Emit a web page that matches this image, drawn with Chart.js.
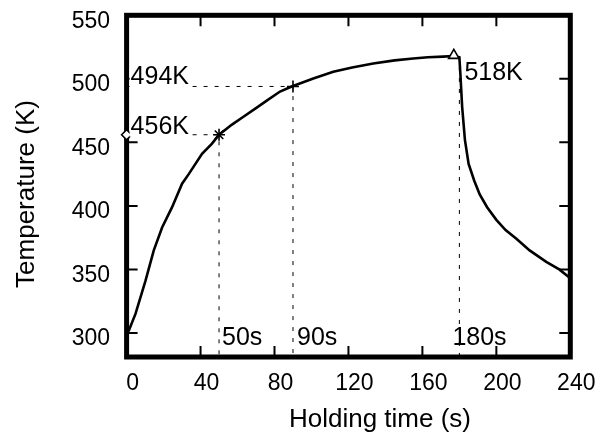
<!DOCTYPE html>
<html><head><meta charset="utf-8">
<script src="https://cdn.jsdelivr.net/npm/chart.js@4/dist/chart.umd.min.js"></script>
<style>html,body{margin:0;padding:0;background:#fff}#wrap{width:598px;height:432px;position:relative}</style>
</head><body><div id="wrap"><canvas id="c"></canvas></div>
<script>
// ---- data ----
const timeS = [0, 1.2, 4.8, 10.2, 14.7, 19.2, 24.6, 30, 33.6, 40.8, 46.2, 50, 57, 63, 70, 76, 83, 89.3, 101, 111.8, 122, 133.4, 145, 155, 163, 171.2, 177, 180, 180.5, 181.5, 183, 185, 188, 191, 195, 200, 205, 211, 218, 227, 234, 240];
const tempK = [300, 302, 315, 341, 365, 383, 399, 417.5, 425, 441, 449, 456, 464, 470, 477, 483, 490, 494, 500.3, 505.5, 509, 512, 514.5, 516, 517, 517.5, 518, 517, 505, 478, 452, 433, 420, 409, 399, 389, 381, 374, 365, 356, 350, 343];
const xTicks = [0, 40, 80, 120, 160, 200, 240];
const yTicks = [300, 350, 400, 450, 500, 550];
const markerTimes = [0, 50, 90, 177];
const markerTemps = [456, 456, 494, 518.5];
const markerStyles = ['rectRot', 'star', 'cross', 'triangle'];
const guideTimes = [50, 90, 180];
const guideTemps = [456, 494, 518];
const tempLabels = ['456K', '494K', '518K'];
const timeLabels = ['50s', '90s', '180s'];
const X_MIN = 0, X_MAX = 240, Y_MIN = 281.1, Y_MAX = 550;
const xTitle = 'Holding time (s)';
const yTitle = 'Temperature (K)';

const FONT = '"Liberation Sans", Arial, sans-serif';

const curve = timeS.map((t, i) => ({x: t, y: tempK[i]}));
const markers = markerTimes.map((t, i) => ({x: t, y: markerTemps[i]}));
const guides = [
  [{x: X_MIN, y: guideTemps[0]}, {x: guideTimes[0], y: guideTemps[0]}, {x: guideTimes[0], y: Y_MIN}],
  [{x: X_MIN, y: guideTemps[1]}, {x: guideTimes[1], y: guideTemps[1]}, {x: guideTimes[1], y: Y_MIN}],
  [{x: guideTimes[2], y: guideTemps[2]}, {x: guideTimes[2], y: Y_MIN}]
];

const guideSets = guides.map(g => ({
  type: 'line', data: g, borderColor: '#000', borderWidth: 1, borderDash: [4, 7],
  pointRadius: 0, tension: 0, order: 3, clip: false
}));

const framePlugin = {
  id: 'frame',
  beforeDatasetsDraw(chart) {
    const {ctx, chartArea: a, scales: {x, y}} = chart;
    ctx.save();
    ctx.strokeStyle = '#000';
    ctx.lineWidth = 2;
    const L = 11;
    ctx.beginPath();
    xTicks.forEach(v => {
      const px = x.getPixelForValue(v);
      if (v === X_MIN || v === X_MAX) return;
      ctx.moveTo(px, a.bottom); ctx.lineTo(px, a.bottom - L);
      ctx.moveTo(px, a.top); ctx.lineTo(px, a.top + L);
    });
    yTicks.forEach(v => {
      const py = y.getPixelForValue(v);
      if (v === Y_MAX) return;
      ctx.moveTo(a.left, py); ctx.lineTo(a.left + L, py);
      ctx.moveTo(a.right, py); ctx.lineTo(a.right - L, py);
    });
    ctx.stroke();
    ctx.lineWidth = 5;
    ctx.strokeRect(a.left, a.top, a.right - a.left, a.bottom - a.top);
    ctx.restore();
  },
  afterDraw(chart) {
    const {ctx, chartArea: a, scales: {x, y}} = chart;
    ctx.save();
    ctx.fillStyle = '#000';
    ctx.font = '25px ' + FONT;
    ctx.textBaseline = 'middle';
    ctx.textAlign = 'left';
    const put = (txt, lx, cy, bg) => {
      if (bg) {
        const w = ctx.measureText(txt).width;
        ctx.fillStyle = '#fff';
        ctx.fillRect(lx - 1, cy - 10, w + 2, 20);
        ctx.fillStyle = '#000';
      }
      ctx.fillText(txt, lx, cy);
    };
    put(tempLabels[0], x.getPixelForValue(X_MIN) + 4, y.getPixelForValue(guideTemps[0]) - 8, true);
    put(tempLabels[1], x.getPixelForValue(X_MIN) + 4, y.getPixelForValue(guideTemps[1]) - 9, true);
    put(tempLabels[2], x.getPixelForValue(guideTimes[2]) + 5, y.getPixelForValue(guideTemps[2]) + 17, false);
    const sy = a.bottom - 19;
    put(timeLabels[0], x.getPixelForValue(guideTimes[0]) + 3, sy, false);
    put(timeLabels[1], x.getPixelForValue(guideTimes[1]) + 4, sy, false);
    put(timeLabels[2], x.getPixelForValue(guideTimes[2]) - 7, sy, false);

    ctx.font = '26px ' + FONT;
    ctx.textAlign = 'center';
    ctx.textBaseline = 'alphabetic';
    ctx.fillText(xTitle, 380, 427);
    ctx.translate(34, 194);
    ctx.rotate(-Math.PI / 2);
    ctx.fillText(yTitle, 0, 0);
    ctx.restore();
  }
};

new Chart(document.getElementById('c'), {
  type: 'scatter',
  data: {
    datasets: [
      {
        type: 'scatter', data: markers, pointStyle: markerStyles,
        pointRadius: [5, 6, 6, 6], borderColor: '#000', backgroundColor: '#fff',
        borderWidth: 1.6, order: 0, clip: false
      },
      {
        type: 'line', data: curve, borderColor: '#000', borderWidth: 2.6,
        pointRadius: 0, tension: 0, order: 1, clip: false
      },
      ...guideSets
    ]
  },
  options: {
    responsive: true, maintainAspectRatio: false, animation: false,
    layout: {padding: {top: 15.3, right: 27.7, left: 0, bottom: 0}},
    plugins: {legend: {display: false}, tooltip: {enabled: false}},
    scales: {
      x: {
        type: 'linear', min: X_MIN, max: X_MAX,
        afterBuildTicks: s => { s.ticks = xTicks.map(v => ({value: v})); },
        afterFit: s => { s.height = 75; s.paddingLeft = 0; s.paddingRight = 0; s.paddingTop = 0; s.paddingBottom = 0; },
        grid: {display: false, drawTicks: false},
        border: {display: false},
        ticks: {color: '#000', font: {family: FONT, size: 23}, padding: 13, labelOffset: 6, maxRotation: 0, autoSkip: false}
      },
      y: {
        type: 'linear', min: Y_MIN, max: Y_MAX,
        afterBuildTicks: s => { s.ticks = yTicks.map(v => ({value: v})); },
        afterFit: s => { s.width = 126.6; s.paddingLeft = 0; s.paddingRight = 0; s.paddingTop = 0; s.paddingBottom = 0; },
        grid: {display: false, drawTicks: false},
        border: {display: false},
        ticks: {color: '#000', font: {family: FONT, size: 23}, padding: 16.5, labelOffset: 6, autoSkip: false}
      }
    }
  },
  plugins: [framePlugin]
});
</script>
</body></html>
